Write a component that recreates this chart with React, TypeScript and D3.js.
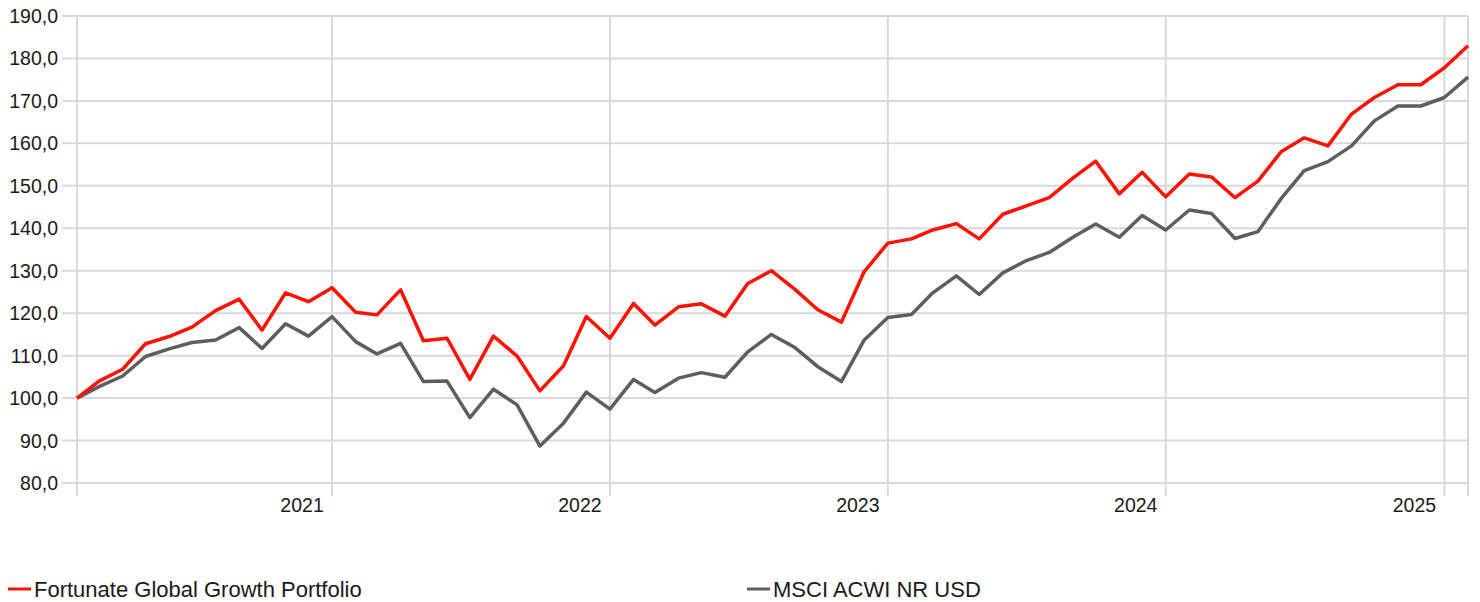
import React from 'react';
import * as d3 from 'd3';

// monthly index values, Feb 2020 .. Feb 2025
const months = d3.timeMonth.range(new Date(2020, 1, 1), new Date(2025, 2, 1));

const portfolio = [
  100, 104.0, 106.8, 112.8, 114.5, 116.7, 120.6, 123.3, 116.0, 124.8, 122.7, 126.0,
  120.2, 119.6, 125.5, 113.5, 114.1, 104.4, 114.6, 109.9, 101.7, 107.6, 119.2, 114.1,
  122.3, 117.2, 121.5, 122.2, 119.3, 127.0, 130.0, 125.6, 120.8, 117.9, 129.8, 136.5,
  137.5, 139.6, 141.1, 137.5, 143.3, 145.2, 147.2, 151.8, 155.8, 148.1, 153.2, 147.4,
  152.8, 152.1, 147.2, 151.1, 158.1, 161.3, 159.4, 166.9, 170.8, 173.8, 173.8, 177.8,
  183.0,
];

const benchmark = [
  100, 102.7, 105.2, 109.8, 111.6, 113.1, 113.7, 116.6, 111.7, 117.5, 114.6, 119.2,
  113.3, 110.4, 112.9, 103.9, 104.0, 95.4, 102.1, 98.4, 88.7, 94.1, 101.4, 97.4,
  104.4, 101.3, 104.7, 106.0, 104.9, 110.9, 115.0, 111.9, 107.4, 103.9, 113.7, 119.0,
  119.7, 124.8, 128.8, 124.4, 129.5, 132.3, 134.3, 137.9, 141.0, 137.9, 143.0, 139.6,
  144.3, 143.5, 137.6, 139.2, 147.1, 153.6, 155.7, 159.4, 165.3, 168.8, 168.8, 170.8,
  175.6,
];

const yTicks = [80, 90, 100, 110, 120, 130, 140, 150, 160, 170, 180, 190];
const years = [2021, 2022, 2023, 2024, 2025];

const seriesNames = ['Fortunate Global Growth Portfolio', 'MSCI ACWI NR USD'];
const colors = ['#ff1200', '#5e5e5e'];

const W = 1480;
const H = 602;
const m = { left: 77, right: 12, top: 16, bottom: 119 };
const font = '"Liberation Sans", Arial, sans-serif';

export default function App() {
  const x = d3.scaleTime()
    .domain([months[0], months[months.length - 1]])
    .range([m.left, W - m.right]);
  const y = d3.scaleLinear().domain([80, 190]).range([H - m.bottom, m.top]);

  const line = d3.line<number>()
    .x((_, i) => x(months[i]))
    .y((d) => y(d));

  const fmt = (v: number) => v.toFixed(1).replace('.', ',');
  const bottom = H - m.bottom;
  const gridX = [months[0], ...years.map((yr) => new Date(yr, 0, 1)), months[months.length - 1]];

  return (
    <div style={{ position: 'absolute', left: 0, top: 0 }}>
      <svg width={W} height={H} style={{ display: 'block', fontFamily: font }}>
        <rect width={W} height={H} fill="#fff" />
        {yTicks.map((t) => (
          <g key={t}>
            <line x1={62} x2={W - m.right} y1={y(t)} y2={y(t)} stroke="#d9d9d9" strokeWidth={2} />
            <text x={58} y={y(t) + 7} textAnchor="end" fontSize={19.5} fill="#1a1a1a">{fmt(t)}</text>
          </g>
        ))}
        {gridX.map((d, i) => (
          <line key={i} x1={x(d)} x2={x(d)} y1={m.top} y2={bottom + 13} stroke="#d9d9d9" strokeWidth={2} />
        ))}
        {years.map((yr) => (
          <text key={yr} x={x(new Date(yr, 0, 1)) - 30} y={bottom + 29} textAnchor="middle" fontSize={19.5} fill="#1a1a1a">
            {yr}
          </text>
        ))}
        <path d={line(benchmark) ?? ''} fill="none" stroke={colors[1]} strokeWidth={3.5} strokeLinejoin="round" />
        <path d={line(portfolio) ?? ''} fill="none" stroke={colors[0]} strokeWidth={3.5} strokeLinejoin="round" />
        {seriesNames.map((name, i) => {
          const lx = i === 0 ? 8 : 747;
          return (
            <g key={name}>
              <line x1={lx} x2={lx + 23} y1={589} y2={589} stroke={colors[i]} strokeWidth={3} />
              <text x={lx + 26} y={597} fontSize={22} fill="#1a1a1a">{name}</text>
            </g>
          );
        })}
      </svg>
    </div>
  );
}
